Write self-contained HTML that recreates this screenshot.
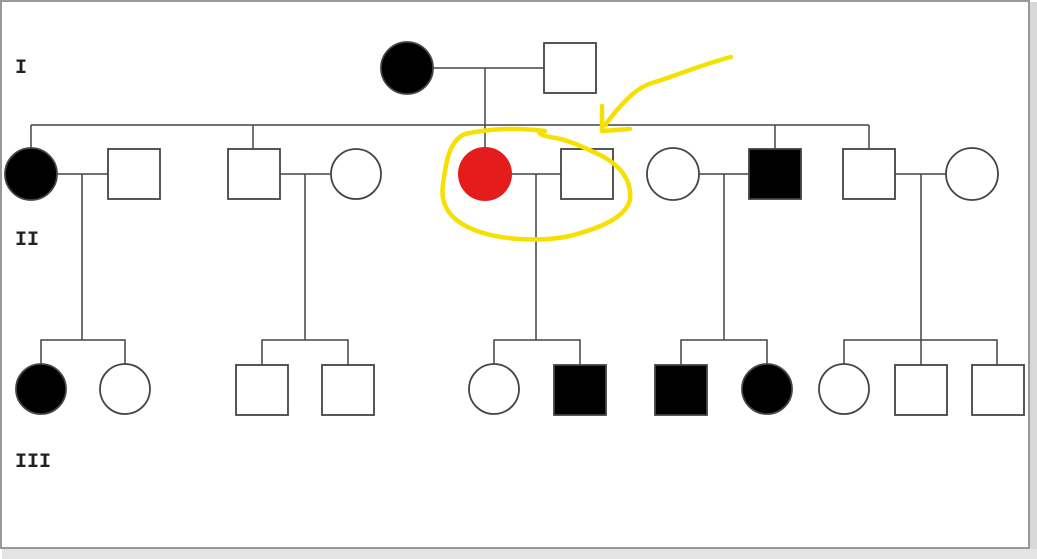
<!DOCTYPE html>
<html><head><meta charset="utf-8"><style>
html,body{margin:0;padding:0;background:#fff;}
svg{display:block;}
</style></head><body>
<svg width="1037" height="559" viewBox="0 0 1037 559" xmlns="http://www.w3.org/2000/svg">
<rect x="0" y="0" width="1037" height="559" fill="#fff"/>
<rect x="1" y="1" width="1028" height="547" fill="#fff" stroke="#999" stroke-width="2"/>
<rect x="1030" y="2" width="7" height="548" fill="#d8d8d8"/>
<rect x="2" y="549" width="1035" height="10" fill="#e4e4e4"/>
<g font-family="Liberation Mono, monospace" font-weight="bold" font-size="20" fill="#222">
<text x="15" y="73">I</text>
<text x="15" y="245">II</text>
<text x="15" y="467">III</text>
</g>
<g stroke="#444" stroke-width="1.5" fill="none">
<line x1="433" y1="68" x2="544" y2="68"/>
<line x1="485" y1="68" x2="485" y2="148"/>
<line x1="31" y1="125" x2="869" y2="125"/>
<line x1="31" y1="125" x2="31" y2="148"/>
<line x1="253" y1="125" x2="253" y2="149"/>
<line x1="775" y1="125" x2="775" y2="149"/>
<line x1="869" y1="125" x2="869" y2="149"/>
<line x1="57" y1="174" x2="108" y2="174"/><line x1="82" y1="174" x2="82" y2="340"/>
<line x1="280" y1="174" x2="330" y2="174"/><line x1="305" y1="174" x2="305" y2="340"/>
<line x1="511" y1="174" x2="561" y2="174"/><line x1="536" y1="174" x2="536" y2="340"/>
<line x1="699" y1="174" x2="749" y2="174"/><line x1="724" y1="174" x2="724" y2="340"/>
<line x1="895" y1="174" x2="946" y2="174"/><line x1="921" y1="174" x2="921" y2="340"/>
<polyline points="41,364 41,340 125,340 125,364"/>
<polyline points="262,365 262,340 348,340 348,365"/>
<polyline points="494,364 494,340 580,340 580,365"/>
<polyline points="681,365 681,340 767,340 767,364"/>
<polyline points="844,364 844,340 997,340 997,365"/>
<line x1="921" y1="340" x2="921" y2="365"/>
</g>
<g stroke="#444" stroke-width="1.8">
<circle cx="407" cy="68" r="26" fill="#000"/>
<rect x="544" y="43" width="52" height="50" fill="#fff"/>
<circle cx="31" cy="174" r="26" fill="#000"/>
<rect x="108" y="149" width="52" height="50" fill="#fff"/>
<rect x="228" y="149" width="52" height="50" fill="#fff"/>
<circle cx="356" cy="174" r="25" fill="#fff"/>
<circle cx="485" cy="174" r="27" fill="#e41c1c" stroke="none"/>
<rect x="561" y="149" width="52" height="50" fill="#fff"/>
<circle cx="673" cy="174" r="26" fill="#fff"/>
<rect x="749" y="149" width="52" height="50" fill="#000"/>
<rect x="843" y="149" width="52" height="50" fill="#fff"/>
<circle cx="972" cy="174" r="26" fill="#fff"/>
<circle cx="41" cy="389" r="25" fill="#000"/>
<circle cx="125" cy="389" r="25" fill="#fff"/>
<rect x="236" y="365" width="52" height="50" fill="#fff"/>
<rect x="322" y="365" width="52" height="50" fill="#fff"/>
<circle cx="494" cy="389" r="25" fill="#fff"/>
<rect x="554" y="365" width="52" height="50" fill="#000"/>
<rect x="655" y="365" width="52" height="50" fill="#000"/>
<circle cx="767" cy="389" r="25" fill="#000"/>
<circle cx="844" cy="389" r="25" fill="#fff"/>
<rect x="895" y="365" width="52" height="50" fill="#fff"/>
<rect x="972" y="365" width="52" height="50" fill="#fff"/>
</g>
<g stroke="#f7e000" stroke-width="4.5" fill="none" stroke-linecap="round" stroke-linejoin="round">
<path d="M545,131 C520,128 490,128 465,134 C450,140 446,160 443,185 C440,205 450,222 480,232 C505,240 540,242 570,236 C600,228 625,218 630,200 C632,180 620,165 600,155 C585,148 570,140 550,137 C540,135 535,132 545,131"/>
<path d="M731,57 C700,65 670,78 655,82 C640,86 628,95 605,125"/>
<path d="M602,106 L602,131 L630,129"/>
</g>
</svg>
</body></html>
